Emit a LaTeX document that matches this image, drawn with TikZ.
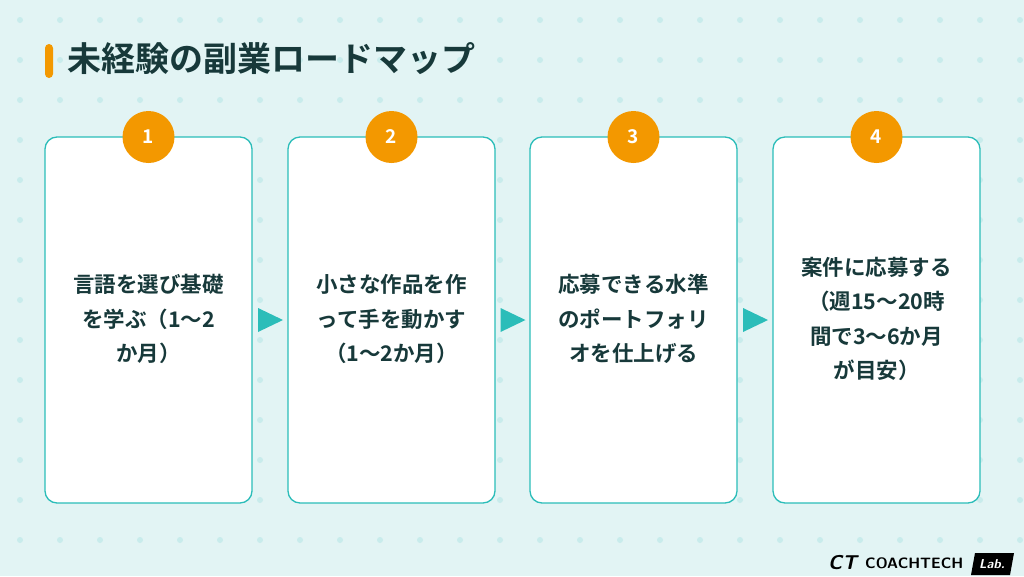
\documentclass[tikz,border=0pt]{standalone}
\usepackage{fontspec}
\usetikzlibrary{calc}
\setmainfont{Noto Sans CJK JP}[BoldFont={* Bold}]
\newfontfamily\cjk{Noto Sans CJK JP}[BoldFont={* Bold}]
\definecolor{bgteal}{HTML}{E2F4F4}
\definecolor{dotteal}{HTML}{C8ECEC}
\definecolor{lineteal}{HTML}{2BBDB9}
\definecolor{stepor}{HTML}{F39800}
\definecolor{inkdark}{HTML}{17393A}
\tikzset{
  stepbox/.style={draw=lineteal, line width=1.3pt, fill=white, rounded corners=12pt,
    minimum width=207pt, minimum height=366pt},
  badge/.style={circle, fill=stepor, minimum size=52pt, text=white,
    font=\cjk\bfseries\fontsize{19}{19}\selectfont},
  steptext/.style={text=inkdark, align=center, font=\cjk\bfseries\fontsize{21.5}{34.5}\selectfont},
  nextarrow/.style={fill=lineteal, draw=none}
}
\begin{document}
\begin{tikzpicture}[x=1pt, y=-1pt]
% 背景
\fill[bgteal] (0,0) rectangle (1024,576);
\useasboundingbox (0,0) rectangle (1024,576);
\foreach \i in {0,...,25}
  \foreach \j in {0,...,14}
    \fill[dotteal] (20+40*\i, 20+40*\j) circle (3pt);
% タイトル
\fill[stepor, rounded corners=4pt] (45,44) rectangle (53,78);
\node[anchor=west, text=inkdark, font=\cjk\bfseries\fontsize{34}{34}\selectfont] (title) at (64,59) {未経験の副業ロードマップ};
% ステップ
\foreach \k/\x/\txt in {1/148.5/{言語を選び基礎\\を学ぶ（1〜2\\か月）},
    2/391.5/{小さな作品を作\\って手を動かす\\（1〜2か月）},
    3/633.5/{応募できる水準\\のポートフォリ\\オを仕上げる},
    4/876.5/{案件に応募する\\（週15〜20時\\間で3〜6か月\\が目安）}}{
  \node[stepbox] (box\k) at (\x,320) {};
  \node[badge] (num\k) at (\x,137) {\k};
  \node[steptext] (txt\k) at (\x,319) {\txt};
}
% 矢印
\foreach \a/\b in {1/2,2/3,3/4}{
  \coordinate (mid\a) at ($(box\a.east)!0.5!(box\b.west)$);
  \fill[nextarrow] ($(mid\a)+(-12,-12)$) -- ($(mid\a)+(13,0)$) -- ($(mid\a)+(-12,12)$) -- cycle;
}
% ロゴ
\node[anchor=west, inner sep=0pt, text=black, font=\sffamily\bfseries\itshape\fontsize{20}{20}\selectfont] (mark) at (828,563) {CT};
\node[anchor=west, inner sep=0pt, text=black, font=\sffamily\bfseries\fontsize{15}{15}\selectfont] (logo) at (865,563) {COACHTECH};
\fill[black] (975,553) -- (1014,553) -- (1010,575) -- (971,575) -- cycle;
\node[text=white, font=\sffamily\bfseries\itshape\fontsize{13}{13}\selectfont] (lab) at (992,564) {Lab.};
\end{tikzpicture}
\end{document}
